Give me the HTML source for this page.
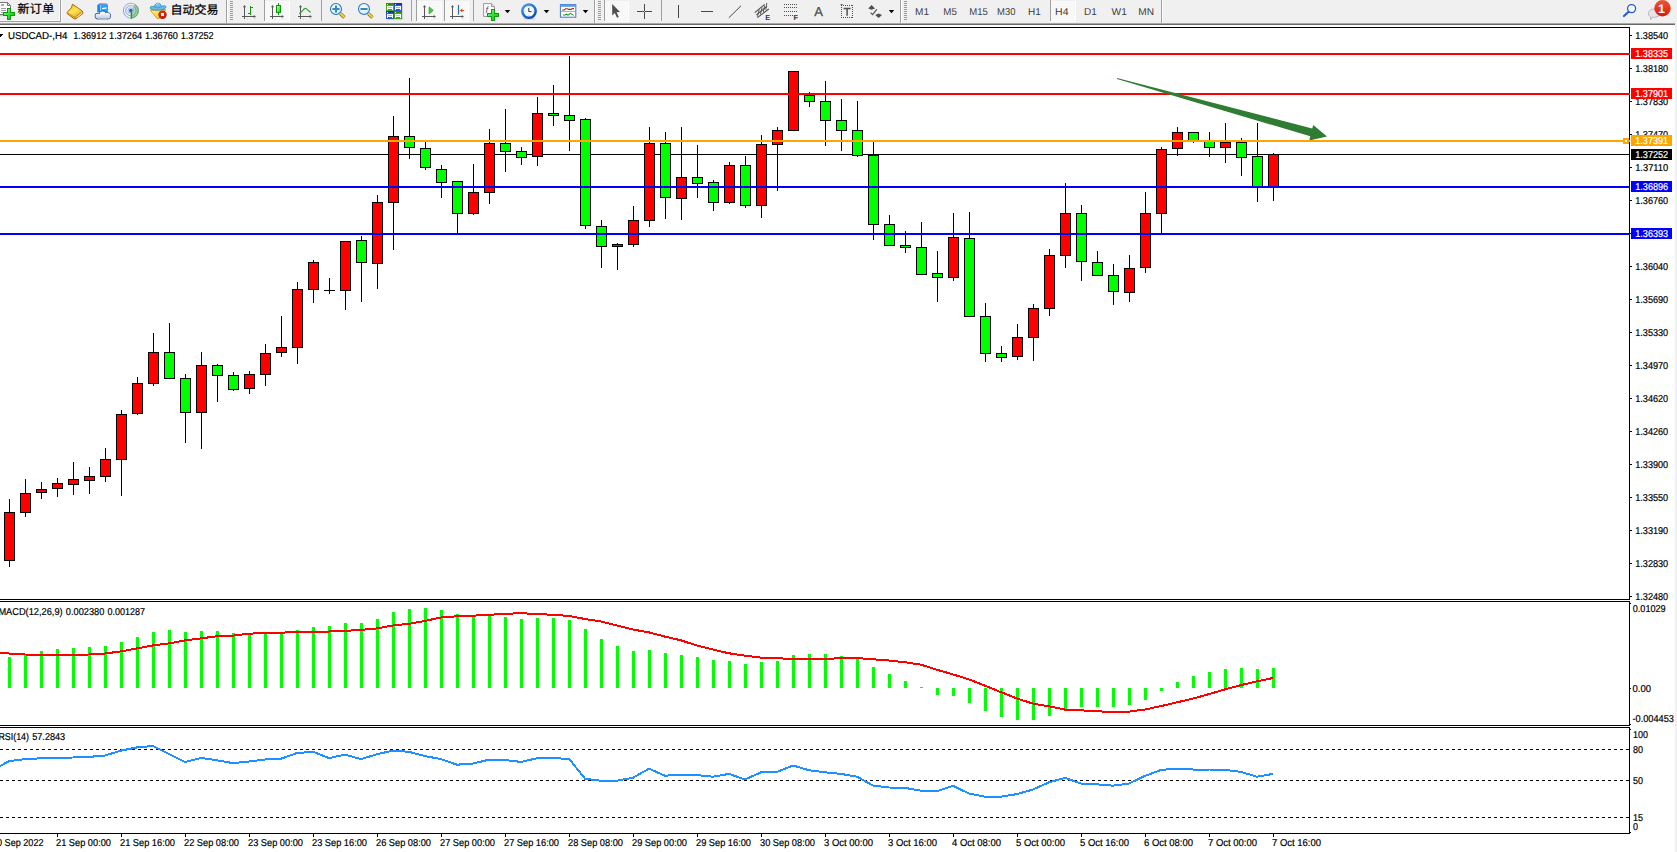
<!DOCTYPE html>
<html lang="zh-CN"><head><meta charset="utf-8"><title>USDCAD-,H4</title>
<style>
html,body{margin:0;padding:0;background:#fff;}
body{width:1677px;height:852px;overflow:hidden;position:relative;font-family:'Liberation Sans', sans-serif;}
svg{position:absolute;left:0;top:0;display:block;}
svg text{font-family:'Liberation Sans', sans-serif;white-space:pre;text-rendering:geometricPrecision;}
</style></head><body>
<svg width="1677" height="852" viewBox="0 0 1677 852" shape-rendering="crispEdges">
<rect x="1675" y="0" width="2" height="852" fill="#f0f0f0"/>
<rect x="0" y="27" width="1630" height="1" fill="#000"/>
<rect x="0" y="599" width="1630" height="1" fill="#000"/>
<rect x="1629" y="27" width="1" height="573" fill="#000"/>
<rect x="0" y="601" width="1630" height="1" fill="#000"/>
<rect x="0" y="725" width="1630" height="1" fill="#000"/>
<rect x="1629" y="601" width="1" height="125" fill="#000"/>
<rect x="0" y="727" width="1630" height="1" fill="#000"/>
<rect x="0" y="833" width="1630" height="1" fill="#000"/>
<rect x="1629" y="727" width="1" height="107" fill="#000"/>
<rect x="1630" y="35" width="2" height="1" fill="#000"/>
<text x="1635.2" y="39" font-size="10" fill="#000" stroke="#000" stroke-width=".2" textLength="33" lengthAdjust="spacingAndGlyphs">1.38540</text>
<rect x="1630" y="68" width="2" height="1" fill="#000"/>
<text x="1635.2" y="72" font-size="10" fill="#000" stroke="#000" stroke-width=".2" textLength="33" lengthAdjust="spacingAndGlyphs">1.38180</text>
<rect x="1630" y="101" width="2" height="1" fill="#000"/>
<text x="1635.2" y="105" font-size="10" fill="#000" stroke="#000" stroke-width=".2" textLength="33" lengthAdjust="spacingAndGlyphs">1.37830</text>
<rect x="1630" y="134" width="2" height="1" fill="#000"/>
<text x="1635.2" y="138" font-size="10" fill="#000" stroke="#000" stroke-width=".2" textLength="33" lengthAdjust="spacingAndGlyphs">1.37470</text>
<rect x="1630" y="167" width="2" height="1" fill="#000"/>
<text x="1635.2" y="171" font-size="10" fill="#000" stroke="#000" stroke-width=".2" textLength="33" lengthAdjust="spacingAndGlyphs">1.37110</text>
<rect x="1630" y="200" width="2" height="1" fill="#000"/>
<text x="1635.2" y="204" font-size="10" fill="#000" stroke="#000" stroke-width=".2" textLength="33" lengthAdjust="spacingAndGlyphs">1.36760</text>
<rect x="1630" y="233" width="2" height="1" fill="#000"/>
<text x="1635.2" y="237" font-size="10" fill="#000" stroke="#000" stroke-width=".2" textLength="33" lengthAdjust="spacingAndGlyphs">1.36400</text>
<rect x="1630" y="266" width="2" height="1" fill="#000"/>
<text x="1635.2" y="270" font-size="10" fill="#000" stroke="#000" stroke-width=".2" textLength="33" lengthAdjust="spacingAndGlyphs">1.36040</text>
<rect x="1630" y="299" width="2" height="1" fill="#000"/>
<text x="1635.2" y="303" font-size="10" fill="#000" stroke="#000" stroke-width=".2" textLength="33" lengthAdjust="spacingAndGlyphs">1.35690</text>
<rect x="1630" y="332" width="2" height="1" fill="#000"/>
<text x="1635.2" y="336" font-size="10" fill="#000" stroke="#000" stroke-width=".2" textLength="33" lengthAdjust="spacingAndGlyphs">1.35330</text>
<rect x="1630" y="365" width="2" height="1" fill="#000"/>
<text x="1635.2" y="369" font-size="10" fill="#000" stroke="#000" stroke-width=".2" textLength="33" lengthAdjust="spacingAndGlyphs">1.34970</text>
<rect x="1630" y="398" width="2" height="1" fill="#000"/>
<text x="1635.2" y="402" font-size="10" fill="#000" stroke="#000" stroke-width=".2" textLength="33" lengthAdjust="spacingAndGlyphs">1.34620</text>
<rect x="1630" y="431" width="2" height="1" fill="#000"/>
<text x="1635.2" y="435" font-size="10" fill="#000" stroke="#000" stroke-width=".2" textLength="33" lengthAdjust="spacingAndGlyphs">1.34260</text>
<rect x="1630" y="464" width="2" height="1" fill="#000"/>
<text x="1635.2" y="468" font-size="10" fill="#000" stroke="#000" stroke-width=".2" textLength="33" lengthAdjust="spacingAndGlyphs">1.33900</text>
<rect x="1630" y="497" width="2" height="1" fill="#000"/>
<text x="1635.2" y="501" font-size="10" fill="#000" stroke="#000" stroke-width=".2" textLength="33" lengthAdjust="spacingAndGlyphs">1.33550</text>
<rect x="1630" y="530" width="2" height="1" fill="#000"/>
<text x="1635.2" y="534" font-size="10" fill="#000" stroke="#000" stroke-width=".2" textLength="33" lengthAdjust="spacingAndGlyphs">1.33190</text>
<rect x="1630" y="563" width="2" height="1" fill="#000"/>
<text x="1635.2" y="567" font-size="10" fill="#000" stroke="#000" stroke-width=".2" textLength="33" lengthAdjust="spacingAndGlyphs">1.32830</text>
<rect x="1630" y="596" width="2" height="1" fill="#000"/>
<text x="1635.2" y="600" font-size="10" fill="#000" stroke="#000" stroke-width=".2" textLength="33" lengthAdjust="spacingAndGlyphs">1.32480</text>
<rect x="0" y="154" width="1629" height="1" fill="#000"/>
<rect x="9" y="499" width="1" height="68" fill="#000"/>
<rect x="4" y="512" width="11" height="49" fill="#000"/>
<rect x="5" y="513" width="9" height="47" fill="#ff0000"/>
<rect x="25" y="479" width="1" height="38" fill="#000"/>
<rect x="20" y="493" width="11" height="20" fill="#000"/>
<rect x="21" y="494" width="9" height="18" fill="#ff0000"/>
<rect x="41" y="482" width="1" height="17" fill="#000"/>
<rect x="36" y="489" width="11" height="4" fill="#000"/>
<rect x="37" y="490" width="9" height="2" fill="#ff0000"/>
<rect x="57" y="478" width="1" height="19" fill="#000"/>
<rect x="52" y="483" width="11" height="6" fill="#000"/>
<rect x="53" y="484" width="9" height="4" fill="#ff0000"/>
<rect x="73" y="462" width="1" height="33" fill="#000"/>
<rect x="68" y="479" width="11" height="6" fill="#000"/>
<rect x="69" y="480" width="9" height="4" fill="#ff0000"/>
<rect x="89" y="467" width="1" height="27" fill="#000"/>
<rect x="84" y="476" width="11" height="5" fill="#000"/>
<rect x="85" y="477" width="9" height="3" fill="#ff0000"/>
<rect x="105" y="448" width="1" height="34" fill="#000"/>
<rect x="100" y="459" width="11" height="18" fill="#000"/>
<rect x="101" y="460" width="9" height="16" fill="#ff0000"/>
<rect x="121" y="410" width="1" height="86" fill="#000"/>
<rect x="116" y="414" width="11" height="46" fill="#000"/>
<rect x="117" y="415" width="9" height="44" fill="#ff0000"/>
<rect x="137" y="377" width="1" height="38" fill="#000"/>
<rect x="132" y="383" width="11" height="31" fill="#000"/>
<rect x="133" y="384" width="9" height="29" fill="#ff0000"/>
<rect x="153" y="333" width="1" height="53" fill="#000"/>
<rect x="148" y="352" width="11" height="32" fill="#000"/>
<rect x="149" y="353" width="9" height="30" fill="#ff0000"/>
<rect x="169" y="323" width="1" height="56" fill="#000"/>
<rect x="164" y="352" width="11" height="27" fill="#000"/>
<rect x="165" y="353" width="9" height="25" fill="#00ff00"/>
<rect x="185" y="374" width="1" height="69" fill="#000"/>
<rect x="180" y="378" width="11" height="35" fill="#000"/>
<rect x="181" y="379" width="9" height="33" fill="#00ff00"/>
<rect x="201" y="352" width="1" height="97" fill="#000"/>
<rect x="196" y="365" width="11" height="48" fill="#000"/>
<rect x="197" y="366" width="9" height="46" fill="#ff0000"/>
<rect x="217" y="364" width="1" height="38" fill="#000"/>
<rect x="212" y="365" width="11" height="11" fill="#000"/>
<rect x="213" y="366" width="9" height="9" fill="#00ff00"/>
<rect x="233" y="372" width="1" height="19" fill="#000"/>
<rect x="228" y="375" width="11" height="15" fill="#000"/>
<rect x="229" y="376" width="9" height="13" fill="#00ff00"/>
<rect x="249" y="371" width="1" height="23" fill="#000"/>
<rect x="244" y="374" width="11" height="15" fill="#000"/>
<rect x="245" y="375" width="9" height="13" fill="#ff0000"/>
<rect x="265" y="344" width="1" height="42" fill="#000"/>
<rect x="260" y="353" width="11" height="22" fill="#000"/>
<rect x="261" y="354" width="9" height="20" fill="#ff0000"/>
<rect x="281" y="316" width="1" height="41" fill="#000"/>
<rect x="276" y="347" width="11" height="6" fill="#000"/>
<rect x="277" y="348" width="9" height="4" fill="#ff0000"/>
<rect x="297" y="282" width="1" height="82" fill="#000"/>
<rect x="292" y="289" width="11" height="59" fill="#000"/>
<rect x="293" y="290" width="9" height="57" fill="#ff0000"/>
<rect x="313" y="260" width="1" height="43" fill="#000"/>
<rect x="308" y="262" width="11" height="28" fill="#000"/>
<rect x="309" y="263" width="9" height="26" fill="#ff0000"/>
<rect x="329" y="278" width="1" height="16" fill="#000"/>
<rect x="324" y="290" width="11" height="1" fill="#000"/>
<rect x="345" y="241" width="1" height="69" fill="#000"/>
<rect x="340" y="241" width="11" height="50" fill="#000"/>
<rect x="341" y="242" width="9" height="48" fill="#ff0000"/>
<rect x="361" y="236" width="1" height="66" fill="#000"/>
<rect x="356" y="240" width="11" height="23" fill="#000"/>
<rect x="357" y="241" width="9" height="21" fill="#00ff00"/>
<rect x="377" y="195" width="1" height="94" fill="#000"/>
<rect x="372" y="202" width="11" height="62" fill="#000"/>
<rect x="373" y="203" width="9" height="60" fill="#ff0000"/>
<rect x="393" y="116" width="1" height="134" fill="#000"/>
<rect x="388" y="136" width="11" height="67" fill="#000"/>
<rect x="389" y="137" width="9" height="65" fill="#ff0000"/>
<rect x="409" y="78" width="1" height="81" fill="#000"/>
<rect x="404" y="136" width="11" height="12" fill="#000"/>
<rect x="405" y="137" width="9" height="10" fill="#00ff00"/>
<rect x="425" y="142" width="1" height="28" fill="#000"/>
<rect x="420" y="148" width="11" height="20" fill="#000"/>
<rect x="421" y="149" width="9" height="18" fill="#00ff00"/>
<rect x="441" y="165" width="1" height="33" fill="#000"/>
<rect x="436" y="169" width="11" height="14" fill="#000"/>
<rect x="437" y="170" width="9" height="12" fill="#00ff00"/>
<rect x="457" y="181" width="1" height="53" fill="#000"/>
<rect x="452" y="181" width="11" height="33" fill="#000"/>
<rect x="453" y="182" width="9" height="31" fill="#00ff00"/>
<rect x="473" y="164" width="1" height="51" fill="#000"/>
<rect x="468" y="192" width="11" height="22" fill="#000"/>
<rect x="469" y="193" width="9" height="20" fill="#ff0000"/>
<rect x="489" y="129" width="1" height="75" fill="#000"/>
<rect x="484" y="143" width="11" height="50" fill="#000"/>
<rect x="485" y="144" width="9" height="48" fill="#ff0000"/>
<rect x="505" y="109" width="1" height="63" fill="#000"/>
<rect x="500" y="143" width="11" height="9" fill="#000"/>
<rect x="501" y="144" width="9" height="7" fill="#00ff00"/>
<rect x="521" y="147" width="1" height="18" fill="#000"/>
<rect x="516" y="151" width="11" height="7" fill="#000"/>
<rect x="517" y="152" width="9" height="5" fill="#00ff00"/>
<rect x="537" y="97" width="1" height="69" fill="#000"/>
<rect x="532" y="113" width="11" height="44" fill="#000"/>
<rect x="533" y="114" width="9" height="42" fill="#ff0000"/>
<rect x="553" y="85" width="1" height="41" fill="#000"/>
<rect x="548" y="113" width="11" height="3" fill="#000"/>
<rect x="549" y="114" width="9" height="1" fill="#00ff00"/>
<rect x="569" y="56" width="1" height="95" fill="#000"/>
<rect x="564" y="115" width="11" height="6" fill="#000"/>
<rect x="565" y="116" width="9" height="4" fill="#00ff00"/>
<rect x="585" y="118" width="1" height="111" fill="#000"/>
<rect x="580" y="119" width="11" height="107" fill="#000"/>
<rect x="581" y="120" width="9" height="105" fill="#00ff00"/>
<rect x="601" y="220" width="1" height="48" fill="#000"/>
<rect x="596" y="226" width="11" height="21" fill="#000"/>
<rect x="597" y="227" width="9" height="19" fill="#00ff00"/>
<rect x="617" y="243" width="1" height="27" fill="#000"/>
<rect x="612" y="244" width="11" height="3" fill="#000"/>
<rect x="613" y="245" width="9" height="1" fill="#ff0000"/>
<rect x="633" y="206" width="1" height="41" fill="#000"/>
<rect x="628" y="220" width="11" height="25" fill="#000"/>
<rect x="629" y="221" width="9" height="23" fill="#ff0000"/>
<rect x="649" y="127" width="1" height="100" fill="#000"/>
<rect x="644" y="143" width="11" height="78" fill="#000"/>
<rect x="645" y="144" width="9" height="76" fill="#ff0000"/>
<rect x="665" y="132" width="1" height="87" fill="#000"/>
<rect x="660" y="143" width="11" height="55" fill="#000"/>
<rect x="661" y="144" width="9" height="53" fill="#00ff00"/>
<rect x="681" y="127" width="1" height="93" fill="#000"/>
<rect x="676" y="177" width="11" height="22" fill="#000"/>
<rect x="677" y="178" width="9" height="20" fill="#ff0000"/>
<rect x="697" y="145" width="1" height="53" fill="#000"/>
<rect x="692" y="177" width="11" height="7" fill="#000"/>
<rect x="693" y="178" width="9" height="5" fill="#00ff00"/>
<rect x="713" y="180" width="1" height="31" fill="#000"/>
<rect x="708" y="182" width="11" height="21" fill="#000"/>
<rect x="709" y="183" width="9" height="19" fill="#00ff00"/>
<rect x="729" y="162" width="1" height="42" fill="#000"/>
<rect x="724" y="165" width="11" height="38" fill="#000"/>
<rect x="725" y="166" width="9" height="36" fill="#ff0000"/>
<rect x="745" y="156" width="1" height="52" fill="#000"/>
<rect x="740" y="165" width="11" height="41" fill="#000"/>
<rect x="741" y="166" width="9" height="39" fill="#00ff00"/>
<rect x="761" y="135" width="1" height="83" fill="#000"/>
<rect x="756" y="144" width="11" height="62" fill="#000"/>
<rect x="757" y="145" width="9" height="60" fill="#ff0000"/>
<rect x="777" y="127" width="1" height="64" fill="#000"/>
<rect x="772" y="130" width="11" height="15" fill="#000"/>
<rect x="773" y="131" width="9" height="13" fill="#ff0000"/>
<rect x="793" y="71" width="1" height="60" fill="#000"/>
<rect x="788" y="71" width="11" height="60" fill="#000"/>
<rect x="789" y="72" width="9" height="58" fill="#ff0000"/>
<rect x="809" y="92" width="1" height="15" fill="#000"/>
<rect x="804" y="95" width="11" height="7" fill="#000"/>
<rect x="805" y="96" width="9" height="5" fill="#00ff00"/>
<rect x="825" y="81" width="1" height="65" fill="#000"/>
<rect x="820" y="101" width="11" height="20" fill="#000"/>
<rect x="821" y="102" width="9" height="18" fill="#00ff00"/>
<rect x="841" y="99" width="1" height="52" fill="#000"/>
<rect x="836" y="120" width="11" height="11" fill="#000"/>
<rect x="837" y="121" width="9" height="9" fill="#00ff00"/>
<rect x="857" y="101" width="1" height="56" fill="#000"/>
<rect x="852" y="130" width="11" height="26" fill="#000"/>
<rect x="853" y="131" width="9" height="24" fill="#00ff00"/>
<rect x="873" y="142" width="1" height="98" fill="#000"/>
<rect x="868" y="155" width="11" height="70" fill="#000"/>
<rect x="869" y="156" width="9" height="68" fill="#00ff00"/>
<rect x="889" y="215" width="1" height="31" fill="#000"/>
<rect x="884" y="224" width="11" height="22" fill="#000"/>
<rect x="885" y="225" width="9" height="20" fill="#00ff00"/>
<rect x="905" y="231" width="1" height="22" fill="#000"/>
<rect x="900" y="245" width="11" height="3" fill="#000"/>
<rect x="901" y="246" width="9" height="1" fill="#00ff00"/>
<rect x="921" y="222" width="1" height="53" fill="#000"/>
<rect x="916" y="247" width="11" height="28" fill="#000"/>
<rect x="917" y="248" width="9" height="26" fill="#00ff00"/>
<rect x="937" y="251" width="1" height="51" fill="#000"/>
<rect x="932" y="273" width="11" height="5" fill="#000"/>
<rect x="933" y="274" width="9" height="3" fill="#00ff00"/>
<rect x="953" y="213" width="1" height="68" fill="#000"/>
<rect x="948" y="237" width="11" height="41" fill="#000"/>
<rect x="949" y="238" width="9" height="39" fill="#ff0000"/>
<rect x="969" y="212" width="1" height="105" fill="#000"/>
<rect x="964" y="238" width="11" height="79" fill="#000"/>
<rect x="965" y="239" width="9" height="77" fill="#00ff00"/>
<rect x="985" y="303" width="1" height="59" fill="#000"/>
<rect x="980" y="316" width="11" height="38" fill="#000"/>
<rect x="981" y="317" width="9" height="36" fill="#00ff00"/>
<rect x="1001" y="346" width="1" height="16" fill="#000"/>
<rect x="996" y="353" width="11" height="5" fill="#000"/>
<rect x="997" y="354" width="9" height="3" fill="#00ff00"/>
<rect x="1017" y="324" width="1" height="36" fill="#000"/>
<rect x="1012" y="337" width="11" height="20" fill="#000"/>
<rect x="1013" y="338" width="9" height="18" fill="#ff0000"/>
<rect x="1033" y="304" width="1" height="57" fill="#000"/>
<rect x="1028" y="308" width="11" height="30" fill="#000"/>
<rect x="1029" y="309" width="9" height="28" fill="#ff0000"/>
<rect x="1049" y="249" width="1" height="67" fill="#000"/>
<rect x="1044" y="255" width="11" height="54" fill="#000"/>
<rect x="1045" y="256" width="9" height="52" fill="#ff0000"/>
<rect x="1065" y="183" width="1" height="85" fill="#000"/>
<rect x="1060" y="213" width="11" height="43" fill="#000"/>
<rect x="1061" y="214" width="9" height="41" fill="#ff0000"/>
<rect x="1081" y="205" width="1" height="76" fill="#000"/>
<rect x="1076" y="213" width="11" height="49" fill="#000"/>
<rect x="1077" y="214" width="9" height="47" fill="#00ff00"/>
<rect x="1097" y="251" width="1" height="25" fill="#000"/>
<rect x="1092" y="262" width="11" height="14" fill="#000"/>
<rect x="1093" y="263" width="9" height="12" fill="#00ff00"/>
<rect x="1113" y="264" width="1" height="41" fill="#000"/>
<rect x="1108" y="275" width="11" height="17" fill="#000"/>
<rect x="1109" y="276" width="9" height="15" fill="#00ff00"/>
<rect x="1129" y="255" width="1" height="47" fill="#000"/>
<rect x="1124" y="268" width="11" height="25" fill="#000"/>
<rect x="1125" y="269" width="9" height="23" fill="#ff0000"/>
<rect x="1145" y="192" width="1" height="81" fill="#000"/>
<rect x="1140" y="213" width="11" height="55" fill="#000"/>
<rect x="1141" y="214" width="9" height="53" fill="#ff0000"/>
<rect x="1161" y="147" width="1" height="87" fill="#000"/>
<rect x="1156" y="149" width="11" height="65" fill="#000"/>
<rect x="1157" y="150" width="9" height="63" fill="#ff0000"/>
<rect x="1177" y="127" width="1" height="29" fill="#000"/>
<rect x="1172" y="132" width="11" height="17" fill="#000"/>
<rect x="1173" y="133" width="9" height="15" fill="#ff0000"/>
<rect x="1193" y="132" width="1" height="11" fill="#000"/>
<rect x="1188" y="132" width="11" height="10" fill="#000"/>
<rect x="1189" y="133" width="9" height="8" fill="#00ff00"/>
<rect x="1209" y="132" width="1" height="25" fill="#000"/>
<rect x="1204" y="141" width="11" height="7" fill="#000"/>
<rect x="1205" y="142" width="9" height="5" fill="#00ff00"/>
<rect x="1225" y="123" width="1" height="40" fill="#000"/>
<rect x="1220" y="142" width="11" height="6" fill="#000"/>
<rect x="1221" y="143" width="9" height="4" fill="#ff0000"/>
<rect x="1241" y="138" width="1" height="38" fill="#000"/>
<rect x="1236" y="142" width="11" height="16" fill="#000"/>
<rect x="1237" y="143" width="9" height="14" fill="#00ff00"/>
<rect x="1257" y="123" width="1" height="79" fill="#000"/>
<rect x="1252" y="156" width="11" height="31" fill="#000"/>
<rect x="1253" y="157" width="9" height="29" fill="#00ff00"/>
<rect x="1273" y="153" width="1" height="48" fill="#000"/>
<rect x="1268" y="154" width="11" height="33" fill="#000"/>
<rect x="1269" y="155" width="9" height="31" fill="#ff0000"/>
<rect x="0" y="53" width="1630" height="2" fill="#ff0000"/>
<rect x="0" y="93" width="1630" height="2" fill="#ff0000"/>
<polygon shape-rendering="geometricPrecision" fill="#2f7d32" points="1117,78.1 1312.2,128.4 1313.3,124.9 1327,136.6 1309.2,140.6 1310.3,136.3 1117,78.9"/>
<rect x="0" y="186" width="1630" height="2" fill="#0000ff"/>
<rect x="0" y="233" width="1630" height="2" fill="#0000ff"/>
<rect x="0" y="140" width="1630" height="2" fill="#ffa500"/>
<rect x="1623" y="138" width="6" height="6" fill="#ffa500"/>
<rect x="1625" y="140" width="2" height="2" fill="#fff"/>
<rect x="1631" y="48" width="41" height="11" fill="#ff0000"/>
<text x="1635.2" y="57" font-size="10" fill="#fff" stroke="#fff" stroke-width=".2" textLength="33" lengthAdjust="spacingAndGlyphs">1.38335</text>
<rect x="1631" y="88" width="41" height="11" fill="#ff0000"/>
<text x="1635.2" y="97" font-size="10" fill="#fff" stroke="#fff" stroke-width=".2" textLength="33" lengthAdjust="spacingAndGlyphs">1.37901</text>
<rect x="1631" y="135" width="41" height="11" fill="#ffa500"/>
<text x="1635.2" y="144" font-size="10" fill="#fff" stroke="#fff" stroke-width=".2" textLength="33" lengthAdjust="spacingAndGlyphs">1.37391</text>
<rect x="1631" y="149" width="41" height="11" fill="#000"/>
<text x="1635.2" y="158" font-size="10" fill="#fff" stroke="#fff" stroke-width=".2" textLength="33" lengthAdjust="spacingAndGlyphs">1.37252</text>
<rect x="1631" y="181" width="41" height="11" fill="#0000ff"/>
<text x="1635.2" y="190" font-size="10" fill="#fff" stroke="#fff" stroke-width=".2" textLength="33" lengthAdjust="spacingAndGlyphs">1.36896</text>
<rect x="1631" y="228" width="41" height="11" fill="#0000ff"/>
<text x="1635.2" y="237" font-size="10" fill="#fff" stroke="#fff" stroke-width=".2" textLength="33" lengthAdjust="spacingAndGlyphs">1.36393</text>
<polygon points="0,34 3.4,34 0.8,37 0,37" fill="#000"/>
<text x="8" y="39" font-size="10" fill="#000" stroke="#000" stroke-width=".2" textLength="59.5" lengthAdjust="spacingAndGlyphs">USDCAD-,H4</text>
<text x="73.3" y="39" font-size="10" fill="#000" stroke="#000" stroke-width=".2" textLength="33" lengthAdjust="spacingAndGlyphs">1.36912</text>
<text x="109.1" y="39" font-size="10" fill="#000" stroke="#000" stroke-width=".2" textLength="33" lengthAdjust="spacingAndGlyphs">1.37264</text>
<text x="144.89999999999998" y="39" font-size="10" fill="#000" stroke="#000" stroke-width=".2" textLength="33" lengthAdjust="spacingAndGlyphs">1.36760</text>
<text x="180.7" y="39" font-size="10" fill="#000" stroke="#000" stroke-width=".2" textLength="33" lengthAdjust="spacingAndGlyphs">1.37252</text>
<rect x="8" y="657" width="3" height="31" fill="#00ff00"/>
<rect x="24" y="655" width="3" height="33" fill="#00ff00"/>
<rect x="40" y="651" width="3" height="37" fill="#00ff00"/>
<rect x="56" y="649" width="3" height="39" fill="#00ff00"/>
<rect x="72" y="648" width="3" height="40" fill="#00ff00"/>
<rect x="88" y="647" width="3" height="41" fill="#00ff00"/>
<rect x="104" y="646" width="3" height="42" fill="#00ff00"/>
<rect x="120" y="642" width="3" height="46" fill="#00ff00"/>
<rect x="136" y="637" width="3" height="51" fill="#00ff00"/>
<rect x="152" y="632" width="3" height="56" fill="#00ff00"/>
<rect x="168" y="630" width="3" height="58" fill="#00ff00"/>
<rect x="184" y="632" width="3" height="56" fill="#00ff00"/>
<rect x="200" y="631" width="3" height="57" fill="#00ff00"/>
<rect x="216" y="631" width="3" height="57" fill="#00ff00"/>
<rect x="232" y="633" width="3" height="55" fill="#00ff00"/>
<rect x="248" y="634" width="3" height="54" fill="#00ff00"/>
<rect x="264" y="634" width="3" height="54" fill="#00ff00"/>
<rect x="280" y="634" width="3" height="54" fill="#00ff00"/>
<rect x="296" y="630" width="3" height="58" fill="#00ff00"/>
<rect x="312" y="627" width="3" height="61" fill="#00ff00"/>
<rect x="328" y="626" width="3" height="62" fill="#00ff00"/>
<rect x="344" y="623" width="3" height="65" fill="#00ff00"/>
<rect x="360" y="623" width="3" height="65" fill="#00ff00"/>
<rect x="376" y="619" width="3" height="69" fill="#00ff00"/>
<rect x="392" y="612" width="3" height="76" fill="#00ff00"/>
<rect x="408" y="609" width="3" height="79" fill="#00ff00"/>
<rect x="424" y="608" width="3" height="80" fill="#00ff00"/>
<rect x="440" y="610" width="3" height="78" fill="#00ff00"/>
<rect x="456" y="614" width="3" height="74" fill="#00ff00"/>
<rect x="472" y="617" width="3" height="71" fill="#00ff00"/>
<rect x="488" y="616" width="3" height="72" fill="#00ff00"/>
<rect x="504" y="617" width="3" height="71" fill="#00ff00"/>
<rect x="520" y="619" width="3" height="69" fill="#00ff00"/>
<rect x="536" y="618" width="3" height="70" fill="#00ff00"/>
<rect x="552" y="618" width="3" height="70" fill="#00ff00"/>
<rect x="568" y="620" width="3" height="68" fill="#00ff00"/>
<rect x="584" y="629" width="3" height="59" fill="#00ff00"/>
<rect x="600" y="639" width="3" height="49" fill="#00ff00"/>
<rect x="616" y="646" width="3" height="42" fill="#00ff00"/>
<rect x="632" y="651" width="3" height="37" fill="#00ff00"/>
<rect x="648" y="650" width="3" height="38" fill="#00ff00"/>
<rect x="664" y="653" width="3" height="35" fill="#00ff00"/>
<rect x="680" y="655" width="3" height="33" fill="#00ff00"/>
<rect x="696" y="657" width="3" height="31" fill="#00ff00"/>
<rect x="712" y="660" width="3" height="28" fill="#00ff00"/>
<rect x="728" y="661" width="3" height="27" fill="#00ff00"/>
<rect x="744" y="664" width="3" height="24" fill="#00ff00"/>
<rect x="760" y="662" width="3" height="26" fill="#00ff00"/>
<rect x="776" y="661" width="3" height="27" fill="#00ff00"/>
<rect x="792" y="655" width="3" height="33" fill="#00ff00"/>
<rect x="808" y="654" width="3" height="34" fill="#00ff00"/>
<rect x="824" y="654" width="3" height="34" fill="#00ff00"/>
<rect x="840" y="656" width="3" height="32" fill="#00ff00"/>
<rect x="856" y="659" width="3" height="29" fill="#00ff00"/>
<rect x="872" y="667" width="3" height="21" fill="#00ff00"/>
<rect x="888" y="674" width="3" height="14" fill="#00ff00"/>
<rect x="904" y="681" width="3" height="7" fill="#00ff00"/>
<rect x="920" y="687" width="3" height="1" fill="#00ff00"/>
<rect x="1176" y="682" width="3" height="6" fill="#00ff00"/>
<rect x="1192" y="676" width="3" height="12" fill="#00ff00"/>
<rect x="1208" y="672" width="3" height="16" fill="#00ff00"/>
<rect x="1224" y="669" width="3" height="19" fill="#00ff00"/>
<rect x="1240" y="668" width="3" height="20" fill="#00ff00"/>
<rect x="1256" y="669" width="3" height="19" fill="#00ff00"/>
<rect x="1272" y="668" width="3" height="20" fill="#00ff00"/>
<rect x="936" y="688" width="3" height="7" fill="#00ff00"/>
<rect x="952" y="688" width="3" height="8" fill="#00ff00"/>
<rect x="968" y="688" width="3" height="15" fill="#00ff00"/>
<rect x="984" y="688" width="3" height="23" fill="#00ff00"/>
<rect x="1000" y="688" width="3" height="29" fill="#00ff00"/>
<rect x="1016" y="688" width="3" height="32" fill="#00ff00"/>
<rect x="1032" y="688" width="3" height="32" fill="#00ff00"/>
<rect x="1048" y="688" width="3" height="28" fill="#00ff00"/>
<rect x="1064" y="688" width="3" height="22" fill="#00ff00"/>
<rect x="1080" y="688" width="3" height="19" fill="#00ff00"/>
<rect x="1096" y="688" width="3" height="19" fill="#00ff00"/>
<rect x="1112" y="688" width="3" height="19" fill="#00ff00"/>
<rect x="1128" y="688" width="3" height="17" fill="#00ff00"/>
<rect x="1144" y="688" width="3" height="12" fill="#00ff00"/>
<rect x="1160" y="688" width="3" height="3" fill="#00ff00"/>
<polyline points="-7,653.0 9,653.5 25,654.5 41,654.7 57,654.7 73,654.7 89,654.5 105,653.5 121,651.4 137,648.4 153,645.4 169,643.4 185,640.4 201,638.4 217,636.2 233,635.6 249,633.7 265,633.0 281,632.6 297,632.2 313,632.0 329,631.5 345,630.9 361,629.9 377,628.4 393,625.5 409,623.8 425,620.9 441,617.5 457,616.3 473,615.7 489,614.8 505,613.8 521,613.2 537,614.0 553,614.8 569,615.9 585,619.0 601,621.5 617,625.5 633,629.5 649,632.4 665,636.6 681,640.3 697,645.6 713,649.6 729,653.3 745,655.6 761,657.6 777,658.2 793,659.0 809,658.9 825,658.9 841,658.2 857,658.0 873,659.3 889,660.5 905,662.2 921,664.7 937,669.8 953,674.4 969,679.4 985,685.7 1001,692.2 1017,698.5 1033,703.6 1049,706.3 1065,709.6 1081,710.3 1097,711.3 1113,712.0 1129,711.6 1145,709.5 1161,706.1 1177,702.3 1193,698.6 1209,694.1 1225,689.4 1241,685.1 1257,681.3 1273,678.0" fill="none" stroke="#ff0000" stroke-width="2" stroke-linejoin="round"/>
<text x="-1.6" y="615" font-size="10" fill="#000" stroke="#000" stroke-width=".2" textLength="64.2" lengthAdjust="spacingAndGlyphs">MACD(12,26,9)</text>
<text x="65.8" y="615" font-size="10" fill="#000" stroke="#000" stroke-width=".2" textLength="38.5" lengthAdjust="spacingAndGlyphs">0.002380</text>
<text x="107.4" y="615" font-size="10" fill="#000" stroke="#000" stroke-width=".2" textLength="37.5" lengthAdjust="spacingAndGlyphs">0.001287</text>
<rect x="1630" y="603" width="1" height="1" fill="#000"/>
<rect x="1630" y="688" width="1" height="1" fill="#000"/>
<rect x="1630" y="724" width="1" height="1" fill="#000"/>
<text x="1632.7" y="612" font-size="10" fill="#000" stroke="#000" stroke-width=".2" textLength="33" lengthAdjust="spacingAndGlyphs">0.01029</text>
<text x="1632.5" y="692" font-size="10" fill="#000" stroke="#000" stroke-width=".2" textLength="18.5" lengthAdjust="spacingAndGlyphs">0.00</text>
<text x="1632.5" y="722" font-size="10" fill="#000" stroke="#000" stroke-width=".2" textLength="41.5" lengthAdjust="spacingAndGlyphs">-0.004453</text>
<line x1="0" y1="749.5" x2="1629" y2="749.5" stroke="#000" stroke-width="1" stroke-dasharray="3 3"/>
<line x1="0" y1="780.5" x2="1629" y2="780.5" stroke="#000" stroke-width="1" stroke-dasharray="3 3"/>
<line x1="0" y1="817.5" x2="1629" y2="817.5" stroke="#000" stroke-width="1" stroke-dasharray="3 3"/>
<polyline points="-7,770.0 9,761.1 25,759.1 41,758.3 57,757.9 73,757.5 89,756.9 105,755.5 121,750.6 137,747.4 153,746.0 169,754.0 185,762.1 201,757.9 217,760.3 233,763.1 249,761.5 265,759.5 281,758.7 297,753.0 313,751.8 329,758.1 345,754.6 361,759.1 377,754.2 393,750.6 409,751.8 425,756.1 441,759.1 457,764.7 473,763.5 489,759.7 505,760.1 521,761.9 537,758.3 553,758.3 569,758.7 585,778.7 601,780.7 617,780.7 633,777.7 649,768.7 665,775.7 681,774.7 697,775.1 713,776.7 729,773.9 745,779.5 761,772.3 777,771.9 793,765.5 809,770.3 825,772.3 841,773.9 857,776.7 873,785.5 889,787.5 905,787.9 921,790.7 937,791.1 953,785.9 969,793.5 985,796.7 1001,796.7 1017,794.1 1033,789.5 1049,782.3 1065,777.9 1081,783.5 1097,784.3 1113,785.7 1129,783.5 1145,775.9 1161,769.9 1177,768.7 1193,769.5 1209,769.5 1225,769.9 1241,771.9 1257,776.7 1273,773.9" fill="none" stroke="#1e90ff" stroke-width="2" stroke-linejoin="round"/>
<text x="-1.6" y="740" font-size="10" fill="#000" stroke="#000" stroke-width=".2" textLength="30.6" lengthAdjust="spacingAndGlyphs">RSI(14)</text>
<text x="32.2" y="740" font-size="10" fill="#000" stroke="#000" stroke-width=".2" textLength="33" lengthAdjust="spacingAndGlyphs">57.2843</text>
<rect x="1630" y="729" width="1" height="1" fill="#000"/>
<rect x="1630" y="832" width="1" height="1" fill="#000"/>
<text x="1633" y="738" font-size="10" fill="#000" stroke="#000" stroke-width=".2" textLength="15" lengthAdjust="spacingAndGlyphs">100</text>
<text x="1633" y="753" font-size="10" fill="#000" stroke="#000" stroke-width=".2" textLength="10" lengthAdjust="spacingAndGlyphs">80</text>
<text x="1633" y="784" font-size="10" fill="#000" stroke="#000" stroke-width=".2" textLength="10" lengthAdjust="spacingAndGlyphs">50</text>
<text x="1633" y="821" font-size="10" fill="#000" stroke="#000" stroke-width=".2" textLength="10" lengthAdjust="spacingAndGlyphs">15</text>
<text x="1633" y="830.4" font-size="10" fill="#000" stroke="#000" stroke-width=".2" textLength="5" lengthAdjust="spacingAndGlyphs">0</text>
<text x="-8" y="846" font-size="10" fill="#000" stroke="#000" stroke-width=".2" textLength="51.5" lengthAdjust="spacingAndGlyphs">20 Sep 2022</text>
<rect x="57" y="834" width="1" height="3" fill="#000"/>
<text x="56" y="846" font-size="10" fill="#000" stroke="#000" stroke-width=".2" textLength="55" lengthAdjust="spacingAndGlyphs">21 Sep 00:00</text>
<rect x="121" y="834" width="1" height="3" fill="#000"/>
<text x="120" y="846" font-size="10" fill="#000" stroke="#000" stroke-width=".2" textLength="55" lengthAdjust="spacingAndGlyphs">21 Sep 16:00</text>
<rect x="185" y="834" width="1" height="3" fill="#000"/>
<text x="184" y="846" font-size="10" fill="#000" stroke="#000" stroke-width=".2" textLength="55" lengthAdjust="spacingAndGlyphs">22 Sep 08:00</text>
<rect x="249" y="834" width="1" height="3" fill="#000"/>
<text x="248" y="846" font-size="10" fill="#000" stroke="#000" stroke-width=".2" textLength="55" lengthAdjust="spacingAndGlyphs">23 Sep 00:00</text>
<rect x="313" y="834" width="1" height="3" fill="#000"/>
<text x="312" y="846" font-size="10" fill="#000" stroke="#000" stroke-width=".2" textLength="55" lengthAdjust="spacingAndGlyphs">23 Sep 16:00</text>
<rect x="377" y="834" width="1" height="3" fill="#000"/>
<text x="376" y="846" font-size="10" fill="#000" stroke="#000" stroke-width=".2" textLength="55" lengthAdjust="spacingAndGlyphs">26 Sep 08:00</text>
<rect x="441" y="834" width="1" height="3" fill="#000"/>
<text x="440" y="846" font-size="10" fill="#000" stroke="#000" stroke-width=".2" textLength="55" lengthAdjust="spacingAndGlyphs">27 Sep 00:00</text>
<rect x="505" y="834" width="1" height="3" fill="#000"/>
<text x="504" y="846" font-size="10" fill="#000" stroke="#000" stroke-width=".2" textLength="55" lengthAdjust="spacingAndGlyphs">27 Sep 16:00</text>
<rect x="569" y="834" width="1" height="3" fill="#000"/>
<text x="568" y="846" font-size="10" fill="#000" stroke="#000" stroke-width=".2" textLength="55" lengthAdjust="spacingAndGlyphs">28 Sep 08:00</text>
<rect x="633" y="834" width="1" height="3" fill="#000"/>
<text x="632" y="846" font-size="10" fill="#000" stroke="#000" stroke-width=".2" textLength="55" lengthAdjust="spacingAndGlyphs">29 Sep 00:00</text>
<rect x="697" y="834" width="1" height="3" fill="#000"/>
<text x="696" y="846" font-size="10" fill="#000" stroke="#000" stroke-width=".2" textLength="55" lengthAdjust="spacingAndGlyphs">29 Sep 16:00</text>
<rect x="761" y="834" width="1" height="3" fill="#000"/>
<text x="760" y="846" font-size="10" fill="#000" stroke="#000" stroke-width=".2" textLength="55" lengthAdjust="spacingAndGlyphs">30 Sep 08:00</text>
<rect x="825" y="834" width="1" height="3" fill="#000"/>
<text x="824" y="846" font-size="10" fill="#000" stroke="#000" stroke-width=".2" textLength="49" lengthAdjust="spacingAndGlyphs">3 Oct 00:00</text>
<rect x="889" y="834" width="1" height="3" fill="#000"/>
<text x="888" y="846" font-size="10" fill="#000" stroke="#000" stroke-width=".2" textLength="49" lengthAdjust="spacingAndGlyphs">3 Oct 16:00</text>
<rect x="953" y="834" width="1" height="3" fill="#000"/>
<text x="952" y="846" font-size="10" fill="#000" stroke="#000" stroke-width=".2" textLength="49" lengthAdjust="spacingAndGlyphs">4 Oct 08:00</text>
<rect x="1017" y="834" width="1" height="3" fill="#000"/>
<text x="1016" y="846" font-size="10" fill="#000" stroke="#000" stroke-width=".2" textLength="49" lengthAdjust="spacingAndGlyphs">5 Oct 00:00</text>
<rect x="1081" y="834" width="1" height="3" fill="#000"/>
<text x="1080" y="846" font-size="10" fill="#000" stroke="#000" stroke-width=".2" textLength="49" lengthAdjust="spacingAndGlyphs">5 Oct 16:00</text>
<rect x="1145" y="834" width="1" height="3" fill="#000"/>
<text x="1144" y="846" font-size="10" fill="#000" stroke="#000" stroke-width=".2" textLength="49" lengthAdjust="spacingAndGlyphs">6 Oct 08:00</text>
<rect x="1209" y="834" width="1" height="3" fill="#000"/>
<text x="1208" y="846" font-size="10" fill="#000" stroke="#000" stroke-width=".2" textLength="49" lengthAdjust="spacingAndGlyphs">7 Oct 00:00</text>
<rect x="1273" y="834" width="1" height="3" fill="#000"/>
<text x="1272" y="846" font-size="10" fill="#000" stroke="#000" stroke-width=".2" textLength="49" lengthAdjust="spacingAndGlyphs">7 Oct 16:00</text>
<rect x="0" y="0" width="1677" height="23" fill="#f0f0f0"/>
<rect x="0" y="23" width="1675" height="1" fill="#a8a8a8"/>
<rect x="0" y="24" width="1675" height="1" fill="#696969"/>
<rect x="0" y="21" width="61" height="1" fill="#a0a0a0"/>
<rect x="60" y="0" width="1" height="22" fill="#a0a0a0"/>
<rect x="0" y="20" width="60" height="1" fill="#fafafa"/>
<rect x="59" y="0" width="1" height="21" fill="#fafafa"/>
<rect x="61" y="0" width="1" height="22" fill="#fafafa"/>
<rect x="226" y="0" width="1" height="23" fill="#a0a0a0"/>
<rect x="227" y="0" width="1" height="23" fill="#ffffff"/>
<rect x="230" y="1" width="3" height="1" fill="#9a9a9a"/>
<rect x="230" y="3" width="3" height="1" fill="#9a9a9a"/>
<rect x="230" y="5" width="3" height="1" fill="#9a9a9a"/>
<rect x="230" y="7" width="3" height="1" fill="#9a9a9a"/>
<rect x="230" y="9" width="3" height="1" fill="#9a9a9a"/>
<rect x="230" y="11" width="3" height="1" fill="#9a9a9a"/>
<rect x="230" y="13" width="3" height="1" fill="#9a9a9a"/>
<rect x="230" y="15" width="3" height="1" fill="#9a9a9a"/>
<rect x="230" y="17" width="3" height="1" fill="#9a9a9a"/>
<rect x="230" y="19" width="3" height="1" fill="#9a9a9a"/>
<rect x="264" y="0" width="1" height="21" fill="#a0a0a0"/>
<rect x="265" y="1" width="24" height="20" fill="#f8f8f8"/>
<rect x="264" y="21" width="26" height="1" fill="#ffffff"/>
<rect x="289" y="1" width="1" height="21" fill="#ffffff"/>
<rect x="321" y="0" width="1" height="21" fill="#a0a0a0"/>
<rect x="411" y="0" width="1" height="21" fill="#a0a0a0"/>
<rect x="416" y="0" width="1" height="21" fill="#a0a0a0"/>
<rect x="417" y="1" width="24" height="20" fill="#f8f8f8"/>
<rect x="416" y="21" width="26" height="1" fill="#ffffff"/>
<rect x="441" y="1" width="1" height="21" fill="#ffffff"/>
<rect x="444" y="0" width="1" height="21" fill="#a0a0a0"/>
<rect x="445" y="1" width="23" height="20" fill="#f8f8f8"/>
<rect x="444" y="21" width="25" height="1" fill="#ffffff"/>
<rect x="468" y="1" width="1" height="21" fill="#ffffff"/>
<rect x="473" y="0" width="1" height="21" fill="#a0a0a0"/>
<rect x="594" y="0" width="1" height="23" fill="#a0a0a0"/>
<rect x="595" y="0" width="1" height="23" fill="#ffffff"/>
<rect x="598" y="1" width="3" height="1" fill="#9a9a9a"/>
<rect x="598" y="3" width="3" height="1" fill="#9a9a9a"/>
<rect x="598" y="5" width="3" height="1" fill="#9a9a9a"/>
<rect x="598" y="7" width="3" height="1" fill="#9a9a9a"/>
<rect x="598" y="9" width="3" height="1" fill="#9a9a9a"/>
<rect x="598" y="11" width="3" height="1" fill="#9a9a9a"/>
<rect x="598" y="13" width="3" height="1" fill="#9a9a9a"/>
<rect x="598" y="15" width="3" height="1" fill="#9a9a9a"/>
<rect x="598" y="17" width="3" height="1" fill="#9a9a9a"/>
<rect x="598" y="19" width="3" height="1" fill="#9a9a9a"/>
<rect x="604" y="0" width="1" height="21" fill="#a0a0a0"/>
<rect x="605" y="1" width="23" height="20" fill="#f8f8f8"/>
<rect x="604" y="21" width="25" height="1" fill="#ffffff"/>
<rect x="628" y="1" width="1" height="21" fill="#ffffff"/>
<rect x="661" y="0" width="1" height="21" fill="#a0a0a0"/>
<rect x="900" y="0" width="1" height="23" fill="#a0a0a0"/>
<rect x="901" y="0" width="1" height="23" fill="#ffffff"/>
<rect x="904" y="1" width="3" height="1" fill="#9a9a9a"/>
<rect x="904" y="3" width="3" height="1" fill="#9a9a9a"/>
<rect x="904" y="5" width="3" height="1" fill="#9a9a9a"/>
<rect x="904" y="7" width="3" height="1" fill="#9a9a9a"/>
<rect x="904" y="9" width="3" height="1" fill="#9a9a9a"/>
<rect x="904" y="11" width="3" height="1" fill="#9a9a9a"/>
<rect x="904" y="13" width="3" height="1" fill="#9a9a9a"/>
<rect x="904" y="15" width="3" height="1" fill="#9a9a9a"/>
<rect x="904" y="17" width="3" height="1" fill="#9a9a9a"/>
<rect x="904" y="19" width="3" height="1" fill="#9a9a9a"/>
<rect x="1050" y="0" width="1" height="21" fill="#a0a0a0"/>
<rect x="1051" y="1" width="24" height="20" fill="#f8f8f8"/>
<rect x="1050" y="21" width="26" height="1" fill="#ffffff"/>
<rect x="1075" y="1" width="1" height="21" fill="#ffffff"/>
<rect x="1161" y="0" width="1" height="23" fill="#a0a0a0"/>
<rect x="1162" y="0" width="1" height="23" fill="#ffffff"/>
<rect x="644" y="4" width="1" height="15" fill="#484848"/>
<rect x="637" y="11" width="15" height="1" fill="#484848"/>
<rect x="644" y="11" width="1" height="1" fill="#c8c8c8"/>
<rect x="678" y="5" width="1" height="13" fill="#484848"/>
<rect x="701" y="11" width="12" height="1" fill="#484848"/>
<rect x="841" y="5" width="1" height="1" fill="#505050"/>
<rect x="841" y="17" width="1" height="1" fill="#505050"/>
<rect x="843" y="5" width="1" height="1" fill="#505050"/>
<rect x="843" y="17" width="1" height="1" fill="#505050"/>
<rect x="845" y="5" width="1" height="1" fill="#505050"/>
<rect x="845" y="17" width="1" height="1" fill="#505050"/>
<rect x="847" y="5" width="1" height="1" fill="#505050"/>
<rect x="847" y="17" width="1" height="1" fill="#505050"/>
<rect x="849" y="5" width="1" height="1" fill="#505050"/>
<rect x="849" y="17" width="1" height="1" fill="#505050"/>
<rect x="851" y="5" width="1" height="1" fill="#505050"/>
<rect x="851" y="17" width="1" height="1" fill="#505050"/>
<rect x="841" y="5" width="1" height="1" fill="#505050"/>
<rect x="852" y="5" width="1" height="1" fill="#505050"/>
<rect x="841" y="7" width="1" height="1" fill="#505050"/>
<rect x="852" y="7" width="1" height="1" fill="#505050"/>
<rect x="841" y="9" width="1" height="1" fill="#505050"/>
<rect x="852" y="9" width="1" height="1" fill="#505050"/>
<rect x="841" y="11" width="1" height="1" fill="#505050"/>
<rect x="852" y="11" width="1" height="1" fill="#505050"/>
<rect x="841" y="13" width="1" height="1" fill="#505050"/>
<rect x="852" y="13" width="1" height="1" fill="#505050"/>
<rect x="841" y="15" width="1" height="1" fill="#505050"/>
<rect x="852" y="15" width="1" height="1" fill="#505050"/>
<rect x="841" y="17" width="1" height="1" fill="#505050"/>
<rect x="852" y="17" width="1" height="1" fill="#505050"/>
<polygon points="504.8,10 510.2,10 507.5,13.2" fill="#000" shape-rendering="geometricPrecision"/>
<polygon points="543.8,10 549.1999999999999,10 546.5,13.2" fill="#000" shape-rendering="geometricPrecision"/>
<polygon points="582.8,10 588.1999999999999,10 585.5,13.2" fill="#000" shape-rendering="geometricPrecision"/>
<polygon points="888.8,10 894.1999999999999,10 891.5,13.2" fill="#000" shape-rendering="geometricPrecision"/>
<g shape-rendering="geometricPrecision">
<path d="M-1,2.5 H7.5 L10.5,5.5 V14.5 H-1 Z" fill="#fdfdfd" stroke="#787878" stroke-width="1"/>
<path d="M7.5,2.5 V5.5 H10.5 Z" fill="#f8f8f8" stroke="#787878" stroke-width="1"/>
<path d="M0,15.6 H10.6" stroke="#000" stroke-opacity=".18" stroke-width="1"/>
<rect shape-rendering="crispEdges" x="1" y="4" width="3" height="2" fill="#a8a8a8"/>
<rect shape-rendering="crispEdges" x="1" y="8" width="5" height="1" fill="#a0a0a0"/>
<rect shape-rendering="crispEdges" x="1" y="10" width="5" height="1" fill="#a0a0a0"/>
<rect shape-rendering="crispEdges" x="1" y="12" width="3" height="1" fill="#a0a0a0"/>
<defs><linearGradient id="pg3" x1="0" y1="0" x2="1" y2="1"><stop offset="0" stop-color="#9cff9c"/><stop offset=".5" stop-color="#30e030"/><stop offset="1" stop-color="#08c808"/></linearGradient></defs>
<path shape-rendering="crispEdges" d="M7,8 h4 v4 h4 v4 h-4 v4 h-4 v-4 h-4 v-4 h4 Z" fill="#0a9c0a"/>
<path shape-rendering="crispEdges" d="M8,9 h2 v4 h4 v2 h-4 v4 h-2 v-4 h-4 v-2 h4 Z" fill="url(#pg3)"/>
<defs><linearGradient id="gd" x1=".2" y1="0" x2=".8" y2="1"><stop offset="0" stop-color="#f4c020"/><stop offset=".45" stop-color="#ffe45a"/><stop offset="1" stop-color="#d89a10"/></linearGradient></defs>
<path d="M72.5,4.2 L82,10.8 Q83.3,11.9 82.8,13.6 L75.9,18.7 Q74.7,19.2 73.6,18.4 L67.3,13.7 Q66.7,12.7 67.6,11.8 L71.4,7.8 Z" fill="url(#gd)" stroke="#a8680a" stroke-width="1"/>
<path d="M67.8,12.9 L74.9,17.5 L81.2,12.6" fill="none" stroke="#b87c10" stroke-width=".8"/>
<path d="M76.4,17.5 L82,13.4" fill="none" stroke="#f4e8b0" stroke-width="1"/>
<path d="M97.3,4.7 L99.7,3.3 L107,3.5 L108,5.2 L100.6,5.5 Z" fill="#6a8ce0"/>
<path d="M97.3,4.7 L100.6,5.5 V12.8 L97.3,12 Z" fill="#0a8cea"/>
<path d="M100.6,5.3 L108,5 V12.4 L100.6,12.8 Z" fill="#18a4ff"/>
<path d="M100.6,5.5 V12.6" stroke="#c8ecff" stroke-width=".6"/>
<path d="M102.2,8.6 L106.6,7.9" stroke="#fff" stroke-width="1.1"/>
<defs><linearGradient id="cl" x1="0" y1="0" x2="0" y2="1"><stop offset="0" stop-color="#ffffff"/><stop offset="1" stop-color="#bccadf"/></linearGradient></defs>
<g fill="#3c5c9c" stroke="#3c5c9c" stroke-width="1.7"><circle cx="97.9" cy="16.1" r="2.4"/><circle cx="102.7" cy="14.4" r="3"/><circle cx="107.5" cy="15.7" r="2.7"/><rect x="97.6" y="15" width="10" height="3.5"/></g>
<g fill="url(#cl)"><circle cx="97.9" cy="16.1" r="2.4"/><circle cx="102.7" cy="14.4" r="3"/><circle cx="107.5" cy="15.7" r="2.7"/><rect x="97.6" y="15" width="10" height="3.5"/></g>
<rect x="95.6" y="12" width="15" height="7" fill="url(#cl)" clip-path="url(#clc)"/>
<defs><clipPath id="clc"><circle cx="97.9" cy="16.1" r="2.4"/><circle cx="102.7" cy="14.4" r="3"/><circle cx="107.5" cy="15.7" r="2.7"/><rect x="97.6" y="15" width="10" height="3.5"/></clipPath></defs>
<defs><radialGradient id="sg" cx="130.9" cy="10.7" r="8" gradientUnits="userSpaceOnUse"><stop offset="0" stop-color="#60b860" stop-opacity=".15"/><stop offset="1" stop-color="#3c9c3c" stop-opacity=".6"/></radialGradient><linearGradient id="sr" x1="123" y1="0" x2="139" y2="0" gradientUnits="userSpaceOnUse"><stop offset="0" stop-color="#2c5cd0"/><stop offset=".55" stop-color="#5c84d8"/><stop offset="1" stop-color="#3c8c5c"/></linearGradient></defs>
<path d="M130.9,10.7 L134.9,3.9 A7.9,7.9 0 0 1 131.3,18.6 Z" fill="url(#sg)"/>
<circle cx="130.9" cy="10.7" r="7.5" fill="none" stroke="url(#sr)" stroke-opacity=".55" stroke-width="1"/>
<circle cx="130.9" cy="10.7" r="5.1" fill="none" stroke="url(#sr)" stroke-opacity=".6" stroke-width="1"/>
<circle cx="130.9" cy="10.7" r="2.9" fill="none" stroke="url(#sr)" stroke-opacity=".5" stroke-width=".9"/>
<circle cx="130.8" cy="10.6" r="1.8" fill="#2460d4"/>
<path d="M131.4,11 V18.7" stroke="#18a818" stroke-width="1.5"/>
<defs><linearGradient id="fc" x1="0" y1="0" x2="1" y2="1"><stop offset="0" stop-color="#fff48c"/><stop offset="1" stop-color="#f0bc18"/></linearGradient><radialGradient id="rd" cx=".45" cy=".4" r=".6"><stop offset="0" stop-color="#f83810"/><stop offset="1" stop-color="#b81404"/></radialGradient></defs>
<path d="M150.3,10.2 L165.8,9.6 L159.6,18.2 L157.2,18.7 Z" fill="url(#fc)" stroke="#c8900c" stroke-width=".8"/>
<path d="M150.2,8.2 C150,5.8 153,6.2 154.4,6.8 C154.8,2 161,2 161.4,6.6 C163,5.6 166.4,5 165.8,7.6 C165,10.6 151.2,11.2 150.2,8.2 Z" fill="#6cbcec" stroke="#2484b4" stroke-width=".8"/>
<path d="M154.6,7 C156.4,8.2 159.6,8 161.2,6.8" fill="none" stroke="#2484b4" stroke-width=".6"/>
<path d="M156,4.6 C157,3.6 158.6,3.6 159.4,4.2" fill="none" stroke="#c4e8ff" stroke-width=".9"/>
<circle cx="162.5" cy="14.7" r="4.2" fill="url(#rd)"/>
<rect shape-rendering="crispEdges" x="161" y="13" width="3" height="3" fill="#fff"/>
<path d="M246.6,18.6 l1.2,1 M254.4,18.4 l1.4,.6" stroke="#000" stroke-opacity=".08" stroke-width="1.4"/>
<rect shape-rendering="crispEdges" x="244" y="6" width="1" height="13" fill="#585858"/>
<rect shape-rendering="crispEdges" x="242" y="16" width="13" height="1" fill="#585858"/>
<path d="M244.5,4.9 L242.9,7.2 H246.1 Z M256,16.5 L253.7,14.9 V18.1 Z" fill="#585858"/>
<rect shape-rendering="crispEdges" x="250" y="6" width="1" height="9" fill="#109810"/>
<rect shape-rendering="crispEdges" x="251" y="7" width="2" height="1" fill="#109810"/>
<rect shape-rendering="crispEdges" x="248" y="13" width="2" height="1" fill="#109810"/>
<path d="M274.6,18.6 l1.2,1 M282.4,18.4 l1.4,.6" stroke="#000" stroke-opacity=".08" stroke-width="1.4"/>
<rect shape-rendering="crispEdges" x="272" y="6" width="1" height="13" fill="#585858"/>
<rect shape-rendering="crispEdges" x="270" y="16" width="13" height="1" fill="#585858"/>
<path d="M272.5,4.9 L270.9,7.2 H274.1 Z M284,16.5 L281.7,14.9 V18.1 Z" fill="#585858"/>
<rect shape-rendering="crispEdges" x="278" y="3" width="1" height="12" fill="#0c940c"/>
<rect shape-rendering="crispEdges" x="276" y="5" width="5" height="8" fill="#0c940c"/>
<defs><linearGradient id="cg" x1="0" y1="0" x2="1" y2="1"><stop offset="0" stop-color="#a8ffa8"/><stop offset="1" stop-color="#20d820"/></linearGradient></defs>
<rect shape-rendering="crispEdges" x="277" y="6" width="3" height="6" fill="url(#cg)"/>
<path d="M302.6,18.6 l1.2,1 M310.4,18.4 l1.4,.6" stroke="#000" stroke-opacity=".08" stroke-width="1.4"/>
<rect shape-rendering="crispEdges" x="300" y="6" width="1" height="13" fill="#585858"/>
<rect shape-rendering="crispEdges" x="298" y="16" width="13" height="1" fill="#585858"/>
<path d="M300.5,4.9 L298.9,7.2 H302.1 Z M312,16.5 L309.7,14.9 V18.1 Z" fill="#585858"/>
<path d="M299.2,13.7 C302.4,12.2 303.4,8.4 305.3,8.4 C307.2,8.4 308.2,11.2 310.8,12.2" stroke="#30a030" stroke-width="1.1" fill="none"/>
<path d="M340.2,13.4 L344.4,17.4" stroke="#a87408" stroke-width="3.4" stroke-linecap="butt"/>
<path d="M340,13.2 L344.2,17.2" stroke="#f4d848" stroke-width="1.8" stroke-linecap="butt"/>
<defs><radialGradient id="lg336" cx=".4" cy=".35" r=".7"><stop offset="0" stop-color="#ffffff"/><stop offset="1" stop-color="#c4e8fc"/></radialGradient></defs>
<circle cx="336" cy="9" r="5.5" fill="url(#lg336)" stroke="#2c78c0" stroke-width="1.1"/>
<path d="M332.5,9 H339.5" stroke="#3c88b0" stroke-width="2"/>
<path d="M336,5.5 V12.5" stroke="#3c88b0" stroke-width="2"/>
<path d="M368.2,13.4 L372.4,17.4" stroke="#a87408" stroke-width="3.4" stroke-linecap="butt"/>
<path d="M368,13.2 L372.2,17.2" stroke="#f4d848" stroke-width="1.8" stroke-linecap="butt"/>
<defs><radialGradient id="lg364" cx=".4" cy=".35" r=".7"><stop offset="0" stop-color="#ffffff"/><stop offset="1" stop-color="#c4e8fc"/></radialGradient></defs>
<circle cx="364" cy="9" r="5.5" fill="url(#lg364)" stroke="#2c78c0" stroke-width="1.1"/>
<path d="M360.5,9 H367.5" stroke="#3c88b0" stroke-width="2"/>
<rect shape-rendering="crispEdges" x="386" y="3" width="8" height="8" fill="#48a41c"/>
<rect shape-rendering="crispEdges" x="386" y="3" width="8" height="2" fill="#2c8c0c"/>
<rect shape-rendering="crispEdges" x="387" y="4" width="1" height="1" fill="#e8f0ff"/>
<rect shape-rendering="crispEdges" x="387" y="6" width="6" height="3" fill="#f8fbff"/>
<rect shape-rendering="crispEdges" x="387" y="9" width="1" height="1" fill="#f8fbff"/>
<rect shape-rendering="crispEdges" x="392" y="9" width="1" height="1" fill="#f8fbff"/>
<rect shape-rendering="crispEdges" x="388" y="7" width="4" height="1" fill="#a4dc90"/>
<rect shape-rendering="crispEdges" x="394" y="3" width="8" height="8" fill="#2858d8"/>
<rect shape-rendering="crispEdges" x="394" y="3" width="8" height="2" fill="#1438b0"/>
<rect shape-rendering="crispEdges" x="395" y="4" width="1" height="1" fill="#e8f0ff"/>
<rect shape-rendering="crispEdges" x="395" y="6" width="6" height="3" fill="#f8fbff"/>
<rect shape-rendering="crispEdges" x="395" y="9" width="1" height="1" fill="#f8fbff"/>
<rect shape-rendering="crispEdges" x="400" y="9" width="1" height="1" fill="#f8fbff"/>
<rect shape-rendering="crispEdges" x="396" y="7" width="4" height="1" fill="#98b4f4"/>
<rect shape-rendering="crispEdges" x="386" y="11" width="8" height="8" fill="#2858d8"/>
<rect shape-rendering="crispEdges" x="386" y="11" width="8" height="2" fill="#1438b0"/>
<rect shape-rendering="crispEdges" x="387" y="12" width="1" height="1" fill="#e8f0ff"/>
<rect shape-rendering="crispEdges" x="387" y="14" width="6" height="3" fill="#f8fbff"/>
<rect shape-rendering="crispEdges" x="387" y="17" width="1" height="1" fill="#f8fbff"/>
<rect shape-rendering="crispEdges" x="392" y="17" width="1" height="1" fill="#f8fbff"/>
<rect shape-rendering="crispEdges" x="388" y="15" width="4" height="1" fill="#98b4f4"/>
<rect shape-rendering="crispEdges" x="394" y="11" width="8" height="8" fill="#48a41c"/>
<rect shape-rendering="crispEdges" x="394" y="11" width="8" height="2" fill="#2c8c0c"/>
<rect shape-rendering="crispEdges" x="395" y="12" width="1" height="1" fill="#e8f0ff"/>
<rect shape-rendering="crispEdges" x="395" y="14" width="6" height="3" fill="#f8fbff"/>
<rect shape-rendering="crispEdges" x="395" y="17" width="1" height="1" fill="#f8fbff"/>
<rect shape-rendering="crispEdges" x="400" y="17" width="1" height="1" fill="#f8fbff"/>
<rect shape-rendering="crispEdges" x="396" y="15" width="4" height="1" fill="#a4dc90"/>
<path d="M387,19.6 H402.6 M402.6,4 V19.6" stroke="#000" stroke-opacity=".12" stroke-width="1"/>
<path d="M426.6,18.6 l1.2,1 M434.4,18.4 l1.4,.6" stroke="#000" stroke-opacity=".08" stroke-width="1.4"/>
<rect shape-rendering="crispEdges" x="424" y="6" width="1" height="13" fill="#585858"/>
<rect shape-rendering="crispEdges" x="422" y="16" width="13" height="1" fill="#585858"/>
<path d="M424.5,4.9 L422.9,7.2 H426.1 Z M436,16.5 L433.7,14.9 V18.1 Z" fill="#585858"/>
<path d="M429.2,7 L433.2,10.4 L429.2,13.8 Z" fill="#3cd03c" stroke="#18a018" stroke-width=".8"/>
<path d="M454.6,18.6 l1.2,1 M462.4,18.4 l1.4,.6" stroke="#000" stroke-opacity=".08" stroke-width="1.4"/>
<rect shape-rendering="crispEdges" x="452" y="6" width="1" height="13" fill="#585858"/>
<rect shape-rendering="crispEdges" x="450" y="16" width="13" height="1" fill="#585858"/>
<path d="M452.5,4.9 L450.9,7.2 H454.1 Z M464,16.5 L461.7,14.9 V18.1 Z" fill="#585858"/>
<path d="M458.5,5 V14.6" stroke="#2070b0" stroke-width="1.2"/>
<path d="M459.6,10.5 L462.4,8.4 V9.9 H464.2 V11.1 H462.4 V12.6 Z" fill="#e85010"/>
<path d="M483.6,3.6 H491.4 L494.4,6.6 V16.4 H483.6 Z" fill="#fff" stroke="#8c8c8c" stroke-width=".9"/>
<path d="M491.4,3.6 V6.6 H494.4" fill="#e4e4e4" stroke="#8c8c8c" stroke-width=".9"/>
<text x="485.6" y="12.6" font-size="9" font-style="italic" fill="#505050">f</text>
<defs><linearGradient id="pg487" x1="0" y1="0" x2="1" y2="1"><stop offset="0" stop-color="#9cff9c"/><stop offset=".5" stop-color="#30e030"/><stop offset="1" stop-color="#08c808"/></linearGradient></defs>
<path shape-rendering="crispEdges" d="M491,9 h4 v4 h4 v4 h-4 v4 h-4 v-4 h-4 v-4 h4 Z" fill="#0a9c0a"/>
<path shape-rendering="crispEdges" d="M492,10 h2 v4 h4 v2 h-4 v4 h-2 v-4 h-4 v-2 h4 Z" fill="url(#pg487)"/>
<defs><linearGradient id="ck" x1="0" y1="0" x2=".6" y2="1"><stop offset="0" stop-color="#48a0f0"/><stop offset="1" stop-color="#0c50b0"/></linearGradient></defs>
<ellipse cx="529.4" cy="18.6" rx="6.4" ry="1.2" fill="#000" fill-opacity=".12"/>
<circle cx="529" cy="11.1" r="6.7" fill="#f4f8fc" stroke="url(#ck)" stroke-width="2.5"/>
<path d="M529,6.6 V7.4 M529,14.8 V15.6 M524.5,11.1 H525.3 M532.7,11.1 H533.5" stroke="#90a8c0" stroke-width=".8"/>
<path d="M528.8,8 V11.6 H531.4" stroke="#303030" stroke-width="1" fill="none"/>
<rect x="560.4" y="4.6" width="15.4" height="12.6" fill="#fff" stroke="#3c78c8" stroke-width="1"/>
<rect x="560.4" y="4.6" width="15.4" height="2.2" fill="#5c9ce0"/>
<path d="M561,11.4 H575.4" stroke="#6c9cd8" stroke-width=".8"/>
<path d="M562.2,10 H564.2 L565.6,8.8 H567.6 L568.6,9.4 H571.2 L572.4,8.6 H574" stroke="#a83010" stroke-width="1.1" fill="none"/>
<path d="M563,15 H565 L566.4,14.2 L568,15.2 L570.4,13.4 L572,14.4 L573.6,15.4" stroke="#189818" stroke-width="1.1" fill="none"/>
<path d="M612.2,4 V15.4 L614.8,13 L617,17.8 L618.8,17 L616.6,12.3 L620,12 Z" fill="#505050"/>
<path d="M728.8,17.8 L741,5.8" stroke="#484848" stroke-width="1"/>
<path d="M754.8,12.6 L764.6,4.4 M757.4,17.6 L768.8,9 M756.4,14.9 L767,6.4" stroke="#484848" stroke-width="1.05"/>
<path d="M759.2,9.6 L757.4,16.6 M762,7.6 L760.4,14.4 M764.6,5.6 L763.4,12.2 M766.8,3 L765.8,9.8" stroke="#484848" stroke-width=".9"/>
<text x="765.2" y="19.8" font-size="7.4" font-weight="bold" fill="#383838">E</text>
<path d="M784,4.5 H797" stroke="#505050" stroke-width="1" stroke-dasharray="1 1"/>
<path d="M784,7.5 H797" stroke="#505050" stroke-width="1" stroke-dasharray="1 1"/>
<path d="M784,11.5 H797" stroke="#505050" stroke-width="1" stroke-dasharray="1 1"/>
<path d="M784,15.5 H793" stroke="#505050" stroke-width="1" stroke-dasharray="1 1"/>
<text x="793.4" y="19.9" font-size="7.4" font-weight="bold" fill="#383838">F</text>
<text x="814.2" y="16.2" font-size="13" fill="#505050" stroke="#505050" stroke-width=".3">A</text>
<path d="M840.6,4.6 H842.6" stroke="#505050" stroke-width="1"/>
<path d="M843.6,8.4 H850.6 M847.1,8.4 V15.8" stroke="#505050" stroke-width="1.5"/>
<path d="M868.2,8.6 L871.6,5 L875,8.6 L871.6,9.8 Z" fill="#505050"/>
<path d="M875.2,15 L878.6,18 L882,15 L878.6,13.6 Z" fill="#505050"/>
<path d="M870.6,12.6 L872.6,14.6 L876.8,9.4" stroke="#505050" stroke-width="1.2" fill="none"/>
<circle cx="1631.6" cy="8.6" r="4" fill="#f8f8ff" stroke="#2a5cd0" stroke-width="1.3"/>
<path d="M1628.6,11.8 L1624,16" stroke="#2a5cd0" stroke-width="2.2" stroke-linecap="round"/>
<path d="M1648.4,13.6 C1648.2,7.6 1660,7.6 1659.8,13.4 C1659.6,17 1655,17.6 1652.6,17.2 L1650.6,19.6 L1650.6,16.8 C1649.2,16.2 1648.4,15 1648.4,13.6 Z" fill="#e4e4ec" stroke="#a8a8a8" stroke-width=".8"/>
<defs><linearGradient id="bd" x1="0" y1="0" x2="0" y2="1"><stop offset="0" stop-color="#ec5434"/><stop offset="1" stop-color="#d81c0c"/></linearGradient></defs>
<circle cx="1662.5" cy="8.3" r="8.2" fill="url(#bd)"/>
<text x="1661.6" y="13" font-size="12.5" font-weight="bold" fill="#fff" text-anchor="middle">1</text>
</g>
<text x="17.4" y="13.4" font-size="12" fill="#000" stroke="#000" stroke-width=".25" letter-spacing=".4" font-family="'Liberation Sans', 'Noto Sans CJK SC', sans-serif">新订单</text>
<text x="170.6" y="14.4" font-size="12" fill="#000" stroke="#000" stroke-width=".25" font-family="'Liberation Sans', 'Noto Sans CJK SC', sans-serif">自动交易</text>
<text x="915.1" y="15" font-size="10" fill="#3c3c3c" textLength="14.0" lengthAdjust="spacingAndGlyphs">M1</text>
<text x="943.3" y="15" font-size="10" fill="#3c3c3c" textLength="13.6" lengthAdjust="spacingAndGlyphs">M5</text>
<text x="969.3" y="15" font-size="10" fill="#3c3c3c" textLength="18.5" lengthAdjust="spacingAndGlyphs">M15</text>
<text x="997.1" y="15" font-size="10" fill="#3c3c3c" textLength="18.4" lengthAdjust="spacingAndGlyphs">M30</text>
<text x="1028.0" y="15" font-size="10" fill="#3c3c3c" textLength="12.8" lengthAdjust="spacingAndGlyphs">H1</text>
<text x="1055.1" y="15" font-size="10" fill="#3c3c3c" textLength="13.4" lengthAdjust="spacingAndGlyphs">H4</text>
<text x="1084.1" y="15" font-size="10" fill="#3c3c3c" textLength="12.8" lengthAdjust="spacingAndGlyphs">D1</text>
<text x="1111.5" y="15" font-size="10" fill="#3c3c3c" textLength="15.3" lengthAdjust="spacingAndGlyphs">W1</text>
<text x="1138.3" y="15" font-size="10" fill="#3c3c3c" textLength="15.7" lengthAdjust="spacingAndGlyphs">MN</text>
</svg>
</body></html>
